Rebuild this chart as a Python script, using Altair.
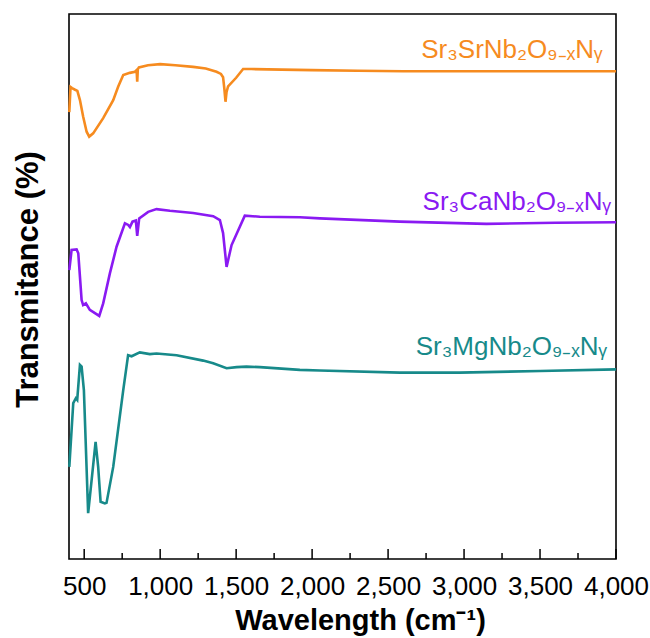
import altair as alt
import pandas as pd

# ---- data (y in arbitrary transmittance units) ----
sr_w = [402, 410, 420, 440, 455, 472, 493, 516, 533, 559, 625, 691, 724, 757, 800, 834, 845, 849, 853, 860,
        920, 1000, 1100, 1217, 1300, 1371, 1400, 1414, 1422, 1430, 1437, 1447, 1500, 1546, 1600, 1800, 2000,
        2300, 2600, 3000, 3500, 4000]
sr_t = [82.0, 86.6, 86.4, 86.1, 85.9, 84.2, 81.2, 78.4, 77.5, 78.1, 80.9, 84.2, 86.7, 88.8, 89.2, 89.4, 89.7,
        87.6, 89.9, 90.2, 90.6, 90.8, 90.6, 90.3, 90.0, 89.4, 89.0, 88.4, 86.4, 83.9, 85.7, 86.7, 88.3, 89.9,
        89.9, 89.8, 89.7, 89.6, 89.5, 89.5, 89.5, 89.5]

ca_w = [402, 417, 450, 461, 483, 493, 511, 537, 599, 625, 669, 713, 768, 790, 801, 818, 840, 849, 862, 921,
        976, 1064, 1217, 1349, 1393, 1414, 1437, 1470, 1557, 1656, 1919, 2051, 2577, 3147, 3600, 4000]
ca_t = [53.0, 56.7, 56.8, 56.1, 47.5, 46.6, 46.9, 45.7, 44.6, 46.9, 52.4, 57.3, 61.6, 61.3, 60.9, 61.9, 62.1,
        59.3, 62.5, 63.7, 64.2, 63.9, 63.5, 62.9, 62.2, 59.8, 53.6, 57.6, 63.0, 62.8, 62.7, 62.5, 61.9, 61.5,
        61.7, 61.8]

mg_w = [402, 428, 445, 454, 472, 483, 498, 526, 549, 575, 592, 608, 636, 647, 691, 757, 789, 812, 866, 932,
        976, 1108, 1283, 1349, 1437, 1503, 1568, 1656, 1919, 2051, 2577, 2971, 3500, 4000]
mg_t = [16.9, 28.6, 29.5, 29.2, 35.6, 35.3, 31.0, 8.4, 14.5, 21.5, 16.9, 10.5, 10.2, 10.3, 16.9, 31.0, 37.4,
        37.2, 37.9, 37.6, 37.7, 37.4, 36.4, 35.9, 35.0, 35.2, 35.3, 35.2, 34.7, 34.6, 34.2, 34.2, 34.5, 34.8]

series_names = ["Sr3SrNb2O9-xNy", "Sr3CaNb2O9-xNy", "Sr3MgNb2O9-xNy"]
series_colors = ["#F68B1F", "#8A1AF2", "#178A8A"]
label_texts = ["Sr₃SrNb₂O₉₋ₓNᵧ", "Sr₃CaNb₂O₉₋ₓNᵧ", "Sr₃MgNb₂O₉₋ₓNᵧ"]
label_w = [3314, 3347, 3311]
label_t = [91.9, 64.0, 37.4]

major_ticks = [500, 1000, 1500, 2000, 2500, 3000, 3500, 4000]
minor_ticks = [750, 1250, 1750, 2250, 2750, 3250, 3750]

# ---- tables ----
rows = []
for name, ws, ts in zip(series_names, [sr_w, ca_w, mg_w], [sr_t, ca_t, mg_t]):
    for w, t in zip(ws, ts):
        rows.append({"series": name, "w": w, "t": t})
df = pd.DataFrame(rows)
labels = pd.DataFrame({"series": series_names, "text": label_texts, "w": label_w, "t": label_t})
majors = pd.DataFrame({"w": major_ticks})
minors = pd.DataFrame({"w": minor_ticks})

FONT = "Liberation Sans"
xscale = alt.Scale(domain=[400, 4000], nice=False, zero=False)
yscale = alt.Scale(domain=[0, 100], nice=False, zero=False)
cscale = alt.Scale(domain=series_names, range=series_colors)

x_axis = alt.Axis(
    values=major_ticks, ticks=False, domain=False, grid=False, labelFlush=False, labelOverlap=False,
    labelFontSize=26, labelFont=FONT, labelColor="black", labelPadding=14,
    title="Wavelength (cm⁻¹)", titleFont=FONT, titleFontSize=29, titleFontWeight="bold",
    titleColor="black", titleX=291, titleY=70, titleAlign="center", titleBaseline="alphabetic",
)
y_axis = alt.Axis(
    labels=False, ticks=False, domain=False, grid=False,
    title="Transmitance (%)", titleFont=FONT, titleFontSize=31, titleFontWeight="bold",
    titleColor="black", titleAngle=270, titleX=-41, titleY=265, titleAlign="center", titleBaseline="middle",
)

lines = alt.Chart(df).mark_line(strokeWidth=2.6).encode(
    x=alt.X("w:Q", scale=xscale, axis=x_axis),
    y=alt.Y("t:Q", scale=yscale, axis=y_axis),
    color=alt.Color("series:N", scale=cscale, legend=None),
    detail="series:N",
)

texts = alt.Chart(labels).mark_text(fontSize=26, font=FONT, align="center", baseline="alphabetic").encode(
    x=alt.X("w:Q", scale=xscale),
    y=alt.Y("t:Q", scale=yscale),
    text="text:N",
    color=alt.Color("series:N", scale=cscale, legend=None),
)

major_rules = alt.Chart(majors).mark_rule(color="black", strokeWidth=1.5).encode(
    x=alt.X("w:Q", scale=xscale), y=alt.value(545), y2=alt.value(535)
)
minor_rules = alt.Chart(minors).mark_rule(color="black", strokeWidth=1.5).encode(
    x=alt.X("w:Q", scale=xscale), y=alt.value(545), y2=alt.value(539)
)

chart = alt.layer(lines, texts, major_rules, minor_rules).properties(
    width=547, height=545,
    autosize=alt.AutoSizeParams(type="none"),
    padding={"left": 69, "top": 14, "right": 34, "bottom": 79},
    background="white",
).configure_view(stroke="black", strokeWidth=1.6)

chart.save("out.html", embed_options={"renderer": "svg", "actions": False})
